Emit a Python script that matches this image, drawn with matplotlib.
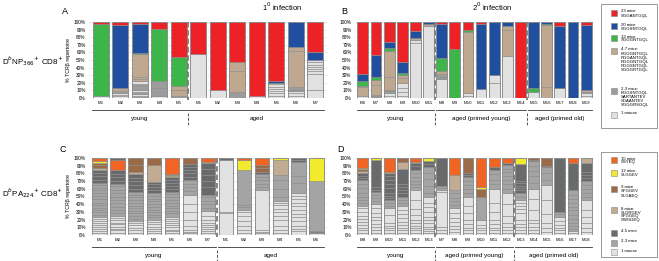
import numpy as np
import matplotlib
matplotlib.use("Agg")
import matplotlib.pyplot as plt
from matplotlib.patches import Rectangle
import matplotlib.transforms as mtransforms

plt.rcParams['font.family'] = ['Liberation Sans', 'DejaVu Sans']

# ---------------- data: each bar is a list of (category, %) from bottom to top ----------------
# panel A, 1st infection, DbNP366
a_names = ["M1", "M2", "M3", "M4", "M5", "M1", "M2", "M3", "M4", "M5", "M6", "M7"]
a_groups = [("young", 5), ("aged", 7)]
a_bars = [
    [("L", 2), ("G", 95), ("R", 3)],
    [("L", 2), ("L", 2), ("L", 3), ("D", 2), ("T", 4), ("B", 83), ("R", 4)],
    [("D", 3), ("L", 2), ("D", 3), ("L", 2), ("D", 4), ("L", 2), ("D", 3), ("L", 3), ("T", 3), ("T", 2), ("T", 31),
     ("G", 1.5), ("B", 37.5), ("R", 3)],
    [("L", 3), ("D", 10), ("D", 9), ("G", 69), ("R", 9)],
    [("D", 2), ("T", 8), ("T", 6), ("G", 38), ("R", 46)],
    [("L", 58), ("R", 42)],
    [("L", 10), ("R", 90)],
    [("D", 8), ("T", 27), ("T", 12), ("R", 53)],
    [("L", 3), ("R", 97)],
    [("L", 3), ("L", 3), ("L", 3), ("L", 3), ("L", 3), ("L", 3), ("L", 2), ("B", 2), ("R", 78)],
    [("L", 3), ("L", 3), ("L", 3), ("D", 2), ("D", 3), ("T", 48), ("T", 5), ("B", 33)],
    [("L", 10), ("L", 22), ("L", 3), ("L", 3), ("L", 3), ("L", 3), ("L", 3), ("L", 3), ("B", 10), ("R", 40)],
]

# panel B, 2nd infection, DbNP366
b_names = ["M6", "M7", "M8", "M9", "M10", "M11",
           "M8", "M9", "M10", "M11", "M12", "M13", "M14",
           "M15", "M16", "M17", "M18", "M19"]
b_groups = [("young", 6), ("aged (primed young)", 7), ("aged (primed old)", 5)]
b_bars = [
    [("L", 2), ("T", 12), ("T", 2), ("G", 6), ("B", 9), ("R", 69)],
    [("D", 2), ("D", 2), ("T", 13), ("T", 7), ("G", 3), ("B", 30), ("R", 43)],
    [("L", 3), ("L", 4), ("D", 2), ("D", 1), ("T", 18), ("T", 34), ("G", 4), ("B", 8), ("R", 26)],
    [("L", 3), ("L", 5), ("L", 5), ("L", 7), ("T", 6), ("T", 4), ("G", 3), ("B", 15), ("R", 52)],
    [("L", 72), ("L", 4), ("T", 3), ("B", 9), ("R", 12)],
    [("L", 95), ("T", 2), ("B", 3)],
    [("L", 25), ("D", 3), ("D", 4), ("T", 3), ("G", 17), ("B", 45), ("R", 3)],
    [("G", 65), ("R", 35)],
    [("L", 3), ("L", 3), ("T", 81), ("G", 2), ("R", 11)],
    [("L", 12), ("B", 85), ("R", 3)],
    [("L", 20), ("L", 10), ("B", 70)],
    [("L", 55), ("T", 35), ("T", 5), ("B", 5)],
    [("R", 100)],
    [("L", 8), ("G", 5), ("B", 87)],
    [("T", 14), ("T", 82), ("G", 2), ("B", 2)],
    [("L", 13), ("B", 82), ("R", 5)],
    [("B", 100)],
    [("L", 3), ("L", 3), ("D", 2), ("T", 2), ("B", 86), ("R", 4)],
]

# panel C, 1st infection, DbPA224
c_names = ["M1", "M2", "M3", "M4", "M5", "M6", "M7", "M1", "M2", "M3", "M4", "M5", "M6"]
c_groups = [("young", 7), ("aged", 6)]
c_bars = [
    [("L", 3), ("L", 2), ("L", 3), ("L", 2), ("L", 3), ("L", 2), ("L", 3), ("L", 3), ("L", 2),
     ("M", 3), ("M", 4), ("M", 2), ("M", 3), ("M", 4), ("M", 3), ("M", 5), ("M", 4), ("M", 3), ("M", 4), ("M", 3),
     ("M", 4), ("M", 3), ("K", 4), ("K", 5), ("K", 4), ("K", 3), ("T", 3), ("Br", 4), ("Br", 3), ("Y", 1.5),
     ("O", 4.5)],
    [("L", 3), ("L", 3), ("L", 2), ("L", 3), ("L", 3), ("L", 2), ("L", 3), ("L", 3), ("L", 3),
     ("M", 4), ("M", 3), ("M", 4), ("M", 5), ("M", 4), ("M", 5), ("M", 4), ("M", 5), ("M", 4), ("M", 3),
     ("K", 4), ("K", 5), ("K", 4), ("K", 5), ("O", 14), ("K", 2)],
    [("L", 3), ("L", 3), ("L", 3), ("L", 4), ("L", 3), ("L", 2),
     ("M", 3), ("M", 4), ("M", 3), ("M", 3), ("M", 4), ("M", 3), ("M", 4), ("M", 3), ("M", 4), ("M", 3), ("M", 4),
     ("K", 4), ("K", 5), ("K", 5), ("K", 4), ("K", 5), ("T", 3), ("Br", 9), ("Br", 9)],
    [("L", 3), ("L", 2), ("L", 3), ("L", 3), ("L", 3), ("L", 3), ("L", 2),
     ("M", 4), ("M", 3), ("M", 4), ("M", 3), ("M", 4), ("M", 3), ("M", 4), ("M", 3), ("M", 4), ("M", 3),
     ("K", 4), ("K", 4), ("K", 4), ("K", 3), ("T", 22), ("Br", 9)],
    [("L", 2), ("L", 3), ("L", 2), ("L", 3), ("L", 3), ("L", 3), ("L", 2), ("L", 3), ("L", 3),
     ("M", 4), ("M", 3), ("M", 4), ("M", 3), ("M", 4), ("M", 4), ("M", 3), ("M", 4), ("M", 3),
     ("K", 4), ("K", 4), ("K", 4), ("K", 4), ("K", 3), ("T", 1), ("Y", 1.5), ("Br", 1.5), ("O", 21)],
    [("L", 2), ("L", 2), ("L", 3), ("L", 5), ("L", 8), ("L", 10), ("L", 10), ("L", 12),
     ("M", 5), ("M", 5), ("M", 4), ("M", 5), ("K", 4), ("K", 5), ("K", 4), ("K", 4), ("K", 4), ("Br", 8)],
    [("L", 3), ("L", 2), ("L", 3), ("L", 2), ("L", 3), ("L", 3), ("L", 4), ("L", 5), ("L", 6),
     ("M", 4), ("M", 5), ("M", 4), ("M", 5), ("M", 3), ("K", 10), ("K", 8), ("K", 8), ("K", 8), ("K", 7),
     ("T", 2), ("O", 5)],
    [("L", 28), ("L", 2), ("L", 68), ("K", 2)],
    [("L", 3), ("L", 4), ("L", 5), ("L", 6), ("L", 7), ("L", 5), ("L", 3),
     ("M", 3), ("M", 3), ("M", 45), ("Y", 13), ("O", 3)],
    [("L", 2), ("L", 2), ("L", 2), ("L", 52), ("M", 4), ("M", 4), ("M", 5), ("M", 4), ("M", 4),
     ("K", 3), ("Br", 5), ("Br", 4), ("O", 9)],
    [("L", 3), ("L", 4), ("L", 5), ("L", 8), ("L", 5), ("L", 5), ("L", 4), ("L", 5), ("L", 3), ("L", 2),
     ("M", 6), ("M", 10), ("M", 12), ("M", 6), ("T", 19), ("Y", 3)],
    [("L", 5), ("L", 3), ("L", 4), ("L", 6), ("L", 5), ("L", 4), ("L", 6), ("L", 5), ("L", 4), ("L", 5), ("L", 4),
     ("L", 4), ("M", 12), ("M", 10), ("M", 18), ("K", 2), ("K", 3)],
    [("L", 3), ("K", 1), ("K", 1), ("M", 65), ("Y", 30)],
]

# panel D, 2nd infection, DbPA224
d_names = ["M8", "M9", "M10", "M11", "M12", "M13",
           "M7", "M8", "M9", "M10", "M11", "M12",
           "M13", "M14", "M15", "M16", "M17", "M18"]
d_groups = [("young", 6), ("aged (primed young)", 6), ("aged (primed old)", 6)]
d_bars = [
    [("L", 3), ("L", 3), ("L", 3), ("L", 4), ("L", 4), ("L", 4), ("L", 4), ("L", 5), ("L", 5), ("L", 3),
     ("M", 4), ("M", 3), ("M", 5), ("M", 5), ("M", 6), ("M", 5), ("M", 5), ("K", 3), ("K", 3), ("K", 3),
     ("T", 3), ("Br", 3), ("Y", 1.5), ("O", 12.5)],
    [("L", 3), ("L", 3), ("L", 4), ("L", 4), ("L", 5), ("L", 5), ("L", 5), ("L", 6), ("L", 5),
     ("M", 4), ("M", 4), ("M", 4), ("M", 4), ("K", 3), ("K", 3), ("K", 36), ("Y", 2)],
    [("L", 3), ("L", 3), ("L", 3), ("L", 3), ("L", 4), ("L", 10), ("L", 9), ("M", 3), ("M", 3), ("M", 4),
     ("K", 3), ("K", 3), ("K", 4), ("K", 6), ("K", 5), ("K", 6), ("K", 4), ("K", 4), ("Y", 2), ("O", 18)],
    [("L", 3), ("L", 3), ("L", 3), ("L", 4), ("L", 4), ("L", 5), ("L", 5), ("L", 6), ("L", 5),
     ("M", 4), ("M", 4), ("M", 4), ("K", 4), ("K", 4), ("K", 4), ("K", 4), ("K", 20), ("T", 9), ("Br", 5)],
    [("L", 3), ("L", 3), ("L", 3), ("L", 3), ("L", 4), ("L", 4), ("L", 6), ("L", 8), ("L", 12), ("L", 12),
     ("M", 4), ("M", 4), ("M", 4), ("M", 5), ("M", 5), ("M", 5), ("K", 4), ("K", 4), ("T", 2), ("O", 5)],
    [("L", 3), ("L", 2), ("L", 3), ("L", 3), ("L", 4), ("L", 4), ("L", 5), ("L", 6), ("L", 6), ("L", 6), ("L", 8),
     ("M", 5), ("M", 8), ("M", 10), ("M", 8), ("M", 7), ("K", 4), ("K", 4), ("Y", 4)],
    [("L", 3), ("L", 4), ("L", 4), ("L", 45), ("L", 2), ("M", 3), ("M", 2), ("K", 37)],
    [("L", 4), ("L", 4), ("L", 4), ("L", 5), ("L", 5), ("L", 6), ("L", 7),
     ("M", 4), ("M", 5), ("M", 4), ("M", 6), ("M", 4), ("T", 20), ("O", 22)],
    [("L", 3), ("L", 3), ("L", 3), ("L", 5), ("L", 6), ("L", 8), ("L", 10), ("L", 12),
     ("M", 5), ("M", 5), ("M", 5), ("M", 5), ("M", 5), ("K", 3), ("K", 3), ("Br", 19)],
    [("L", 3), ("L", 3), ("L", 3), ("L", 4), ("L", 7), ("M", 30), ("Br", 10), ("Y", 2), ("O", 38)],
    [("L", 3), ("L", 3), ("L", 3), ("L", 5), ("L", 6), ("L", 10), ("L", 12), ("L", 18),
     ("M", 6), ("M", 5), ("M", 8), ("M", 6), ("K", 3), ("O", 12)],
    [("L", 3), ("L", 3), ("L", 4), ("L", 5), ("L", 10), ("L", 15), ("L", 15),
     ("M", 5), ("M", 6), ("M", 5), ("M", 6), ("M", 5), ("M", 4), ("M", 5), ("K", 2), ("O", 7)],
    [("L", 3), ("L", 3), ("L", 4), ("L", 4), ("L", 6), ("L", 8), ("L", 6), ("L", 4), ("L", 4), ("L", 3),
     ("M", 5), ("M", 5), ("K", 3), ("K", 3), ("K", 3), ("K", 3), ("K", 3), ("K", 22), ("Y", 8)],
    [("L", 3), ("L", 3), ("L", 4), ("L", 5), ("L", 5), ("L", 12), ("L", 15), ("L", 13),
     ("M", 8), ("M", 8), ("M", 7), ("M", 7), ("M", 6), ("K", 2), ("Br", 2)],
    [("L", 4), ("L", 5), ("L", 6), ("L", 12), ("L", 18), ("L", 20), ("M", 7), ("M", 8), ("M", 8), ("K", 2), ("Br", 10)],
    [("L", 3), ("L", 3), ("L", 3), ("L", 4), ("L", 5), ("L", 6), ("M", 3), ("M", 3), ("K", 70)],
    [("L", 2), ("L", 3), ("M", 3), ("M", 4), ("M", 4), ("M", 5), ("M", 5), ("M", 6), ("M", 5), ("M", 5), ("M", 5),
     ("M", 5), ("M", 6), ("K", 36), ("O", 6)],
    [("L", 4), ("L", 5), ("L", 6), ("L", 8), ("L", 10), ("L", 12), ("M", 5), ("M", 5), ("M", 5), ("M", 5), ("M", 5),
     ("K", 4), ("K", 4), ("K", 4), ("K", 11), ("T", 7)],
]

np_colors = {"R": "#ec2227", "B": "#1f4f9e", "G": "#3db54b", "T": "#bfa88f", "D": "#9c9c9c", "L": "#e1e1e1"}
pa_colors = {"O": "#f26424", "Y": "#f1ea2e", "Br": "#9b6a46", "T": "#c2ab93", "K": "#696a6c", "M": "#a4a4a4",
             "L": "#e2e2e2"}

np_legend = [("R", "23 mice\nSGGANTGQL"), ("B", "20 mice\nSGGSNTGQL"), ("G", "13 mice\nSGGGNTGQL"),
             ("T", "4-7 mice:\nKGGGNTGQL\nRGGANTGQL\nRGGGNTGQL\nRGGSNTGQL\nSGGGRTGQL"),
             ("D", "2-3 mice:\nKGGSNTGQL\nSARTANTEV\nSDAANTEV\nSGGGRSGQL"), ("L", "1 mouse")]
pa_legend = [("O", "15 mice\nSSYEQ"), ("Y", "12 mice\nSLGGEV"), ("Br", "9 mice\nSFGGEV\nSLGAEQ"),
             ("T", "8 mice:\nSLDRGEV\nSFGGEQ\nSWGDEQ"), ("K", "4-5 mice"), ("M", "2-3 mice"), ("L", "1 mouse")]

W, H = 659, 261
fig = plt.figure(figsize=(W / 100, H / 100), dpi=100)


def px_axes(x0, y0, x1, y1):
    return fig.add_axes([x0 / W, 1 - y1 / H, (x1 - x0) / W, (y1 - y0) / H])


def draw_panel(ax, names, bars, colors, groups, width):
    n = len(bars)
    for i, bar in enumerate(bars):
        bottom = 0
        for cat, val in bar:
            ax.bar(i, val, bottom=bottom, width=width, color=colors[cat], edgecolor="#8c8c8c", linewidth=0.45,
                   zorder=2)
            bottom += val
        ax.bar(i, 100, width=width, fill=False, edgecolor="#8c8c8c", linewidth=0.6, zorder=3)
    ax.set_xlim(-0.6, n - 0.4)
    ax.set_ylim(0, 100)
    ax.set_yticks(np.arange(0, 101, 10))
    ax.set_yticklabels([f"{v}%" for v in range(0, 101, 10)], fontsize=3.4)
    ax.set_xticks(range(n))
    ax.set_xticklabels(names, fontsize=3.2)
    ax.tick_params(length=0, pad=2.5)
    for s in ax.spines.values():
        s.set_visible(False)
    ax.yaxis.grid(True, color="#e4e4e4", linewidth=0.5, zorder=0)
    ax.set_axisbelow(True)
    ax.set_ylabel("% TCRβ repertoire", fontsize=3.8, labelpad=2)
    tr = mtransforms.blended_transform_factory(ax.transData, ax.transAxes)
    start = 0
    for k, (lab, cnt) in enumerate(groups):
        end = start + cnt - 1
        ax.plot([start - 0.45, end + 0.45], [-0.16, -0.16], color="#333333", lw=0.6, transform=tr, clip_on=False)
        ax.text((start + end) / 2, -0.27, lab, fontsize=4.6, ha="center", va="center", transform=tr)
        if k > 0:
            ax.plot([start - 0.5, start - 0.5], [1.0, -0.02], color="#7a7a7a", lw=1.3, ls=(0, (3, 1.6)),
                    transform=tr, clip_on=False, zorder=4)
            ax.plot([start - 0.5, start - 0.5], [-0.2, -0.36], color="#555555", lw=0.7, ls=(0, (3, 1.6)),
                    transform=tr, clip_on=False, zorder=4)
        start += cnt


def draw_legend(x0, y0, x1, y1, items, colors, ys):
    fig.patches.append(Rectangle((x0 / W, 1 - y1 / H), (x1 - x0) / W, (y1 - y0) / H, transform=fig.transFigure,
                                 facecolor="white", edgecolor="#888888", linewidth=0.6))
    for (cat, lab), yy in zip(items, ys):
        fig.patches.append(Rectangle((611 / W, 1 - (yy + 6) / H), 6 / W, 6 / H, transform=fig.transFigure,
                                     facecolor=colors[cat], edgecolor="#888888", linewidth=0.4))
        fig.text(621 / W, 1 - (yy - 0.5) / H, lab, fontsize=3.1, va="top", ha="left", linespacing=1.0)


axA = px_axes(89, 22, 327, 98)
draw_panel(axA, a_names, a_bars, np_colors, a_groups, 0.82)
axB = px_axes(355, 22, 594, 98)
draw_panel(axB, b_names, b_bars, np_colors, b_groups, 0.82)
axB.set_ylabel("")
axC = px_axes(89, 158, 327, 235)
draw_panel(axC, c_names, c_bars, pa_colors, c_groups, 0.82)
axD = px_axes(355, 158, 594, 235)
draw_panel(axD, d_names, d_bars, pa_colors, d_groups, 0.82)
axD.set_ylabel("")

for lab, x, y in [("A", 65, 12), ("B", 344, 12), ("C", 63, 150), ("D", 340, 150)]:
    fig.text(x / W, 1 - y / H, lab, fontsize=6.5, ha="center", va="center")

fig.text(282 / W, 1 - 7 / H, "1$^{0}$ infection", fontsize=5.5, ha="center", va="center")
fig.text(492 / W, 1 - 7 / H, "2$^{0}$ infection", fontsize=5.5, ha="center", va="center")
fig.text(2 / W, 1 - 61 / H, "D$^{b}$NP$_{366}$$^{+}$ CD8$^{+}$", fontsize=5.8, ha="left", va="center")
fig.text(2 / W, 1 - 193 / H, "D$^{b}$PA$_{224}$$^{+}$ CD8$^{+}$", fontsize=5.8, ha="left", va="center")

draw_legend(601, 4, 657, 128, np_legend, np_colors, [10, 23, 35, 48, 88, 112])
draw_legend(601, 152, 657, 257, pa_legend, pa_colors, [157, 170, 186, 207, 230, 240, 249])

fig.savefig("out.png", dpi=100)
